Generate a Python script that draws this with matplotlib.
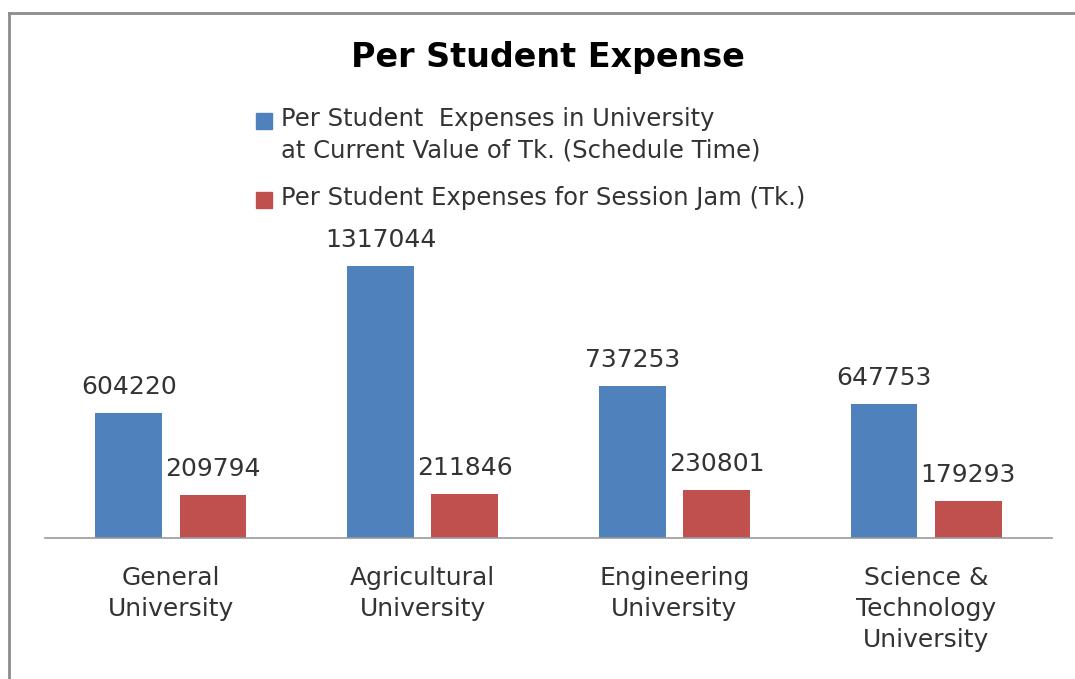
import matplotlib.pyplot as plt
from matplotlib.patches import Rectangle
import numpy as np

categories = ["General\nUniversity", "Agricultural\nUniversity",
              "Engineering\nUniversity", "Science &\nTechnology\nUniversity"]
schedule = [604220, 1317044, 737253, 647753]
session_jam = [209794, 211846, 230801, 179293]
labels = ["Per Student  Expenses in University\nat Current Value of Tk. (Schedule Time)",
          "Per Student Expenses for Session Jam (Tk.)"]

blue = "#4F81BD"
red = "#C0504D"
txt = "#333333"
W, H = 1075, 679

fig = plt.figure(figsize=(10.75, 6.79), dpi=100)
ax = fig.add_axes([45 / W, 141 / H, 1007 / W, 289 / H])

x = np.arange(len(categories))
w = 0.265
b1 = ax.bar(x - 0.167, schedule, w, color=blue)
b2 = ax.bar(x + 0.167, session_jam, w, color=red)

for bars, vals in [(b1, schedule), (b2, session_jam)]:
    for bar, v in zip(bars, vals):
        ax.annotate(str(v), (bar.get_x() + bar.get_width() / 2, v),
                    xytext=(0, 10), textcoords="offset points",
                    ha="center", va="bottom", fontsize=18, color=txt)

ax.set_xlim(-0.5, 3.5)
ax.set_ylim(0, 1400000)
ax.set_yticks([])
ax.set_xticks(x)
ax.set_xticklabels(categories, fontsize=18, color=txt, linespacing=1.38)
ax.tick_params(axis="x", length=0, pad=20)
for s in ["top", "right", "left"]:
    ax.spines[s].set_visible(False)
ax.spines["bottom"].set_color("#999999")
ax.spines["bottom"].set_linewidth(1.2)

fig.text(548 / W, 1 - 58 / H, "Per Student Expense", ha="center", va="center",
         fontsize=24, fontweight="bold", color="black")

# legend drawn by hand so the two-line entry gets wider line spacing
leg_rows = [(121, blue, labels[0]), (200, red, labels[1])]
for yc, col, lab in leg_rows:
    fig.add_artist(Rectangle((256 / W, 1 - (yc + 8) / H), 16 / W, 16 / H,
                             transform=fig.transFigure, color=col))
    fig.text(281 / W, 1 - (yc - 14) / H, lab, ha="left", va="top",
             fontsize=17.5, color=txt, linespacing=1.42)

# chart frame (left and top edges visible)
fig.add_artist(plt.Line2D([9 / W, 9 / W], [0, 1 - 13 / H],
                          transform=fig.transFigure, color="#8c8c8c", lw=2))
fig.add_artist(plt.Line2D([9 / W, 1], [1 - 13 / H, 1 - 13 / H],
                          transform=fig.transFigure, color="#8c8c8c", lw=2))

fig.savefig("out.png", dpi=100)
